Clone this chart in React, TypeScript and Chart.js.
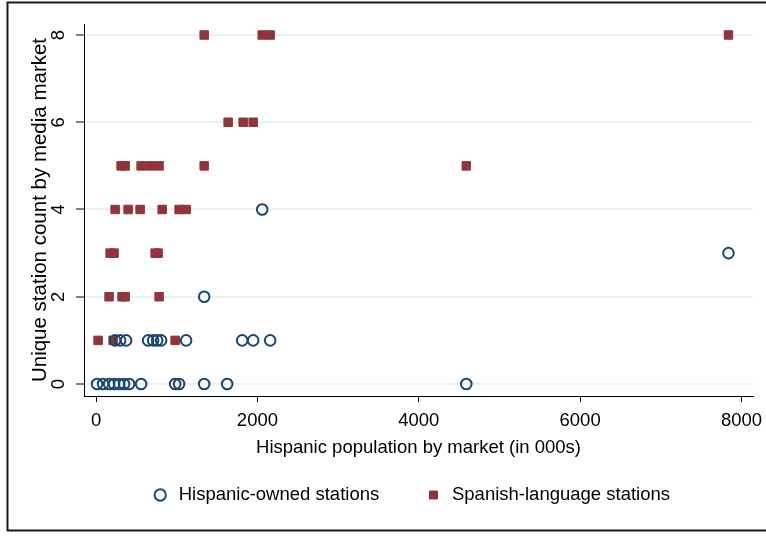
import React, { useEffect, useRef } from "react";
import { Chart, registerables } from "chart.js";

Chart.register(...registerables);

// ---- data (Hispanic population in 000s, station counts) ----
const hispanicOwnedX = [12, 87, 161, 223, 285, 347, 409, 558, 980, 1029, 1340, 1625, 4589,
  236, 298, 372, 645, 707, 757, 806, 1116, 1811, 1947, 2158,
  1340, 7839, 2059];
const hispanicOwnedY = [0, 0, 0, 0, 0, 0, 0, 0, 0, 0, 0, 0, 0,
  1, 1, 1, 1, 1, 1, 1, 1, 1, 1, 1,
  2, 3, 4];

const spanishLangX = [25, 211, 980,
  161, 322, 360, 781,
  174, 223, 732, 769,
  236, 397, 546, 819, 1029, 1116,
  310, 360, 558, 670, 781, 1340, 4589,
  1637, 1823, 1947,
  1340, 2059, 2158, 7839];
const spanishLangY = [1, 1, 1,
  2, 2, 2, 2,
  3, 3, 3, 3,
  4, 4, 4, 4, 4, 4,
  5, 5, 5, 5, 5, 5, 5,
  6, 6, 6,
  8, 8, 8, 8];

const seriesLabels = ["Hispanic-owned stations", "Spanish-language stations"];
const xTickValues = [0, 2000, 4000, 6000, 8000];
const yTickValues = [0, 2, 4, 6, 8];
const xTitle = "Hispanic population by market (in 000s)";
const yTitle = "Unique station count by media market";

const NAVY = "#1a476f";
const MAROON = "#90353b";

const framePlugin = {
  id: "outerFrame",
  afterLayout(chart: any) {
    // shift the legend's centring box so the items sit where the reference has them
    if (chart.legend) chart.legend.left = 68;
  },
  beforeDraw(chart: any) {
    const ctx = chart.ctx;
    ctx.save();
    ctx.strokeStyle = "#1a1a1a";
    ctx.lineWidth = 2;
    ctx.beginPath();
    ctx.moveTo(766, 2.5);
    ctx.lineTo(7.5, 2.5);
    ctx.lineTo(7.5, 530.5);
    ctx.lineTo(766, 530.5);
    ctx.stroke();
    ctx.restore();
  },
};

export default function App() {
  const ref = useRef<HTMLCanvasElement>(null);

  useEffect(() => {
    if (!ref.current) return;
    Chart.defaults.font.family = "'Liberation Sans', Arial, sans-serif";
    Chart.defaults.color = "#000";

    const chart = new Chart(ref.current, {
      type: "scatter",
      data: {
        datasets: [
          {
            label: seriesLabels[0],
            data: hispanicOwnedX.map((x, i) => ({ x, y: hispanicOwnedY[i] })),
            pointStyle: "circle",
            pointRadius: 5.3,
            borderWidth: 2,
            borderColor: NAVY,
            backgroundColor: "rgba(0,0,0,0)",
          },
          {
            label: seriesLabels[1],
            data: spanishLangX.map((x, i) => ({ x, y: spanishLangY[i] })),
            pointStyle: "rect",
            pointRadius: 6,
            borderWidth: 1,
            borderColor: MAROON,
            backgroundColor: MAROON,
          },
        ],
      },
      options: {
        animation: false,
        responsive: false,
        events: [],
        layout: { padding: { left: 0, right: 13, top: 24, bottom: 24.75 } },
        plugins: {
          legend: {
            position: "bottom",
            labels: {
              usePointStyle: true,
              boxHeight: 8,
              padding: 45,
              color: "#000",
              font: { size: 18.5 },
            },
          },
          tooltip: { enabled: false },
        },
        scales: {
          x: {
            type: "linear",
            position: "bottom",
            min: -150,
            max: 8143,
            bounds: "data",
            afterBuildTicks: (s: any) => {
              s.ticks = xTickValues.map((v) => ({ value: v }));
            },
            afterFit: (s: any) => {
              s.height = 44.75;
              s.paddingLeft = 0;
              s.paddingRight = 0;
            },
            ticks: {
              padding: 8,
              color: "#000",
              font: { size: 18.5 },
              maxRotation: 0,
              autoSkip: false,
              callback: (v: any) => String(v),
            },
            grid: {
              drawOnChartArea: false,
              drawTicks: true,
              tickLength: 6,
              tickColor: "#000",
              tickWidth: 1,
            },
            border: { display: true, color: "#000", width: 1 },
            title: {
              display: true,
              text: xTitle,
              color: "#000",
              font: { size: 18.5 },
              padding: { top: 0, bottom: -18.4 },
            },
          },
          y: {
            type: "linear",
            min: -0.275,
            max: 8.252,
            bounds: "data",
            afterBuildTicks: (s: any) => {
              s.ticks = yTickValues.map((v) => ({ value: v }));
            },
            afterFit: (s: any) => {
              s.width = 84;
              s.paddingTop = 0;
              s.paddingBottom = 0;
            },
            ticks: {
              padding: 12,
              minRotation: 90,
              maxRotation: 90,
              crossAlign: "center",
              color: "#000",
              font: { size: 18.5 },
              autoSkip: false,
              callback: (v: any) => String(v),
            },
            grid: {
              color: "#eaf2f3",
              lineWidth: 2,
              tickColor: "#000",
              tickLength: 8,
              tickWidth: 1,
            },
            border: { display: true, color: "#000", width: 1 },
            title: {
              display: true,
              text: yTitle,
              color: "#000",
              font: { size: 20.5 },
              padding: { top: 27.7, bottom: 0 },
            },
          },
        },
      },
      plugins: [framePlugin],
    } as any);

    return () => chart.destroy();
  }, []);

  return (
    <div style={{ position: "absolute", left: 0, top: 0, width: 766, height: 539, background: "#fff" }}>
      <canvas ref={ref} width={766} height={539} />
    </div>
  );
}
